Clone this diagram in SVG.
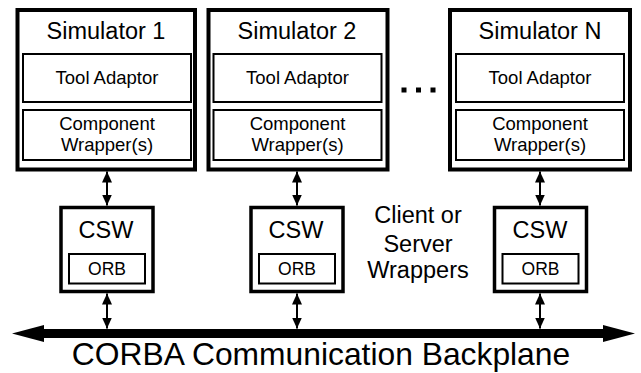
<svg xmlns="http://www.w3.org/2000/svg" width="641" height="373" viewBox="0 0 641 373">
  <style>
    .outer { fill: #fff; stroke: #000; stroke-width: 4; }
    .inner { fill: #fff; stroke: #000; stroke-width: 2; }
    .csw { fill: #fff; stroke: #000; stroke-width: 3.5; }
    .t { font-family: "Liberation Sans", Arial, sans-serif; fill: #000; text-anchor: middle; }
    .title { font-size: 23.5px; }
    .sub { font-size: 18.5px; }
    .cswt { font-size: 23.5px; }
    .orb { font-size: 17.5px; }
    .note { font-size: 23.5px; }
    .bus-label { font-size: 31.8px; }
    .link { stroke: #000; stroke-width: 2; fill: none; marker-start: url(#head); marker-end: url(#head); }
  </style>
  <defs>
    <marker id="head" markerUnits="userSpaceOnUse" markerWidth="12" markerHeight="11" refX="11" refY="5" orient="auto-start-reverse" viewBox="0 0 12 10">
      <path d="M0,0 L11,5 L0,10 z" fill="#000"/>
    </marker>
  </defs>
  <rect width="641" height="373" fill="#fff"/>

  <!-- Simulator 1 -->
  <g id="sim1">
    <rect class="outer" x="17.5" y="10" width="177.5" height="159.5"/>
    <text class="t title" x="106" y="38.5">Simulator 1</text>
    <rect class="inner" x="23" y="54" width="168" height="48"/>
    <text class="t sub" x="107" y="84">Tool Adaptor</text>
    <rect class="inner" x="23" y="110" width="168" height="50"/>
    <text class="t sub" x="107" y="130">Component</text>
    <text class="t sub" x="107" y="151">Wrapper(s)</text>
  </g>

  <!-- Simulator 2 -->
  <g id="sim2">
    <rect class="outer" x="208.5" y="10" width="179" height="159.5"/>
    <text class="t title" x="297" y="38.5">Simulator 2</text>
    <rect class="inner" x="213.5" y="54" width="168" height="48"/>
    <text class="t sub" x="297.5" y="84">Tool Adaptor</text>
    <rect class="inner" x="213.5" y="110" width="168" height="50"/>
    <text class="t sub" x="297.5" y="130">Component</text>
    <text class="t sub" x="297.5" y="151">Wrapper(s)</text>
  </g>

  <!-- ellipsis between simulators -->
  <g id="ellipsis" fill="#000">
    <rect x="401.5" y="87.5" width="5" height="5"/>
    <rect x="416" y="87.5" width="5" height="5"/>
    <rect x="430.5" y="87.5" width="5" height="5"/>
  </g>

  <!-- Simulator N -->
  <g id="simN">
    <rect class="outer" x="450" y="10" width="180" height="159.5"/>
    <text class="t title" x="540" y="38.5">Simulator N</text>
    <rect class="inner" x="456" y="54" width="168" height="48"/>
    <text class="t sub" x="540" y="84">Tool Adaptor</text>
    <rect class="inner" x="456" y="110" width="168" height="50"/>
    <text class="t sub" x="540" y="130">Component</text>
    <text class="t sub" x="540" y="151">Wrapper(s)</text>
  </g>

  <!-- Client/server wrappers -->
  <g id="csw1">
    <rect class="csw" x="61" y="207.5" width="92" height="84"/>
    <text class="t cswt" x="106" y="237.5">CSW</text>
    <rect class="inner" x="69" y="254" width="76" height="29.5"/>
    <text class="t orb" x="107" y="274.5">ORB</text>
  </g>
  <g id="csw2">
    <rect class="csw" x="251" y="207.5" width="92" height="84"/>
    <text class="t cswt" x="296" y="237.5">CSW</text>
    <rect class="inner" x="259" y="254" width="76" height="29.5"/>
    <text class="t orb" x="297" y="274.5">ORB</text>
  </g>
  <g id="cswN">
    <rect class="csw" x="494.5" y="207.5" width="92" height="84"/>
    <text class="t cswt" x="540" y="237.5">CSW</text>
    <rect class="inner" x="502.5" y="254" width="76" height="29.5"/>
    <text class="t orb" x="540.5" y="274.5">ORB</text>
  </g>

  <g id="wrapper-note">
    <text class="t note" x="418" y="223">Client or</text>
    <text class="t note" x="418" y="251.5">Server</text>
    <text class="t note" x="418" y="277.5">Wrappers</text>
  </g>

  <!-- CORBA backplane -->
  <g id="backplane">
    <rect x="42" y="329" width="562" height="9" fill="#000"/>
    <polygon points="12,333.5 44,325 44,342" fill="#000"/>
    <polygon points="635,333.5 603,325 603,342" fill="#000"/>
    <text class="t bus-label" x="321" y="365">CORBA Communication Backplane</text>
  </g>

  <!-- double-headed links -->
  <g id="connectors">
    <line class="link" x1="107" y1="171.5" x2="107" y2="205.5"/>
    <line class="link" x1="297" y1="171.5" x2="297" y2="205.5"/>
    <line class="link" x1="540" y1="171.5" x2="540" y2="205.5"/>
    <line class="link" x1="107" y1="293.5" x2="107" y2="328.5"/>
    <line class="link" x1="297" y1="293.5" x2="297" y2="328.5"/>
    <line class="link" x1="540" y1="293.5" x2="540" y2="328.5"/>
  </g>
</svg>
